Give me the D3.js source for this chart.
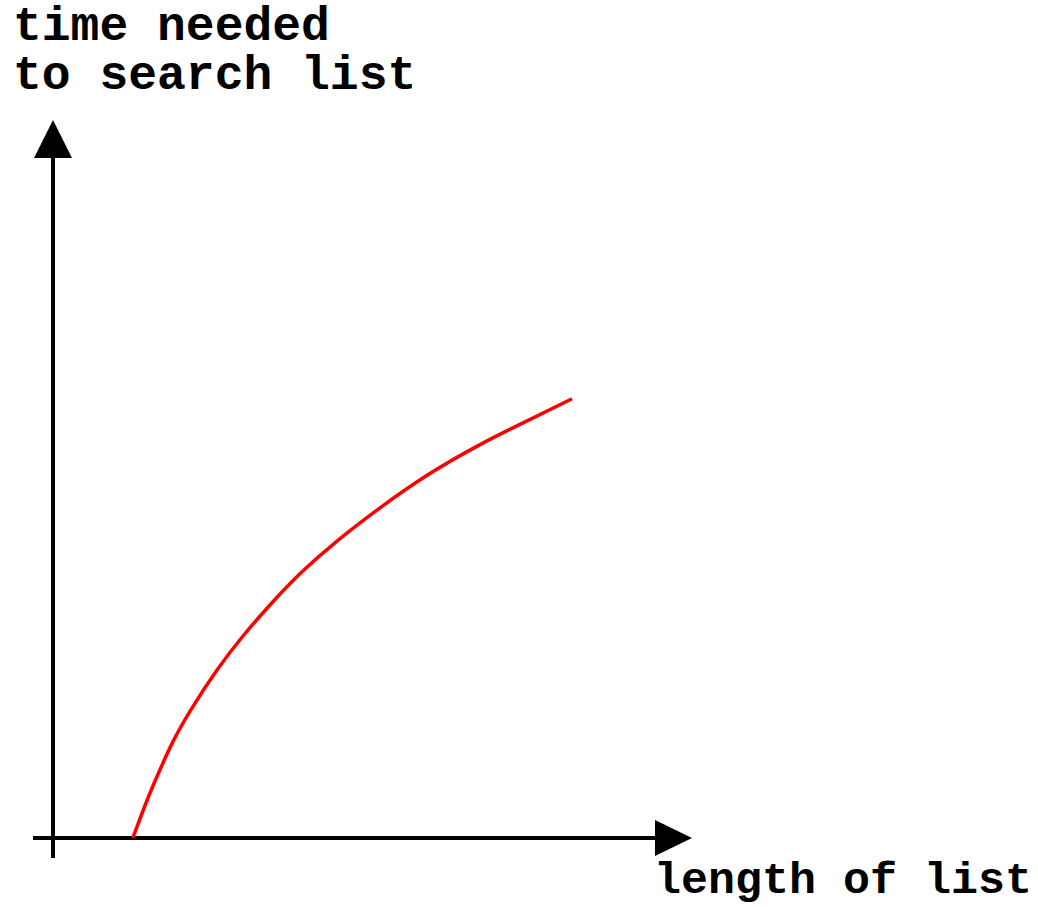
<!DOCTYPE html>
<html>
<head>
<meta charset="utf-8">
<script src="https://cdn.jsdelivr.net/npm/d3@7"></script>
<style>
  body { margin: 0; background: #fff; }
  text { font-family: "Liberation Mono", "Courier New", monospace; font-weight: bold; }
</style>
</head>
<body>
<svg width="1038" height="907"></svg>
<script>
// list length vs time needed to search it
const svg = d3.select('svg');

var lengthOfList = [13.3, 15.8, 17.3, 20, 22.8, 27.3, 31.5, 36.7, 41.2, 46.7, 54.5, 62.3, 71.2, 80, 86.5];
var timeNeeded = [0, 6.7, 10.2, 16.3, 21.2, 28.1, 33.6, 39.5, 44.2, 49.1, 55.1, 60.6, 65.7, 70, 73.2];
var yTitle = ['time needed', 'to search list'];
var xTitle = 'length of list';

var x = d3.scaleLinear().domain([0, 100]).range([53, 653]);
var y = d3.scaleLinear().domain([0, 100]).range([838, 238]);

const graf = svg.append('g');

// axes
graf.append('line')
    .attr('x1', x(0)).attr('x2', x(0))
    .attr('y1', y(0) + 20).attr('y2', 150)
    .attr('stroke', '#000').attr('stroke-width', 4);
graf.append('line')
    .attr('x1', x(0) - 20).attr('x2', 660)
    .attr('y1', y(0)).attr('y2', y(0))
    .attr('stroke', '#000').attr('stroke-width', 4);

// arrow heads
graf.append('path')
    .attr('d', `M${x(0)},120 L${x(0) + 19},158 L${x(0) - 19},158 Z`)
    .attr('fill', '#000');
graf.append('path')
    .attr('d', `M692,${y(0)} L655,${y(0) - 18} L655,${y(0) + 18} Z`)
    .attr('fill', '#000');

// curve
var line = d3.line()
    .x(function(d, i) { return x(lengthOfList[i]); })
    .y(function(d) { return y(d); })
    .curve(d3.curveBasis);
graf.append('path')
    .datum(timeNeeded)
    .attr('d', line)
    .attr('fill', 'none')
    .attr('stroke', '#ff0000')
    .attr('stroke-width', 3.5);

// labels
graf.selectAll('.ytitle')
    .data(yTitle)
    .enter()
    .append('text')
    .attr('class', 'ytitle')
    .attr('x', 13)
    .attr('y', function(d, i) { return 40 + i * 49; })
    .attr('font-size', 48)
    .text(function(d) { return d; });

graf.append('text')
    .attr('x', 1032)
    .attr('y', 893)
    .attr('text-anchor', 'end')
    .attr('font-size', 45)
    .text(xTitle);
</script>
</body>
</html>
